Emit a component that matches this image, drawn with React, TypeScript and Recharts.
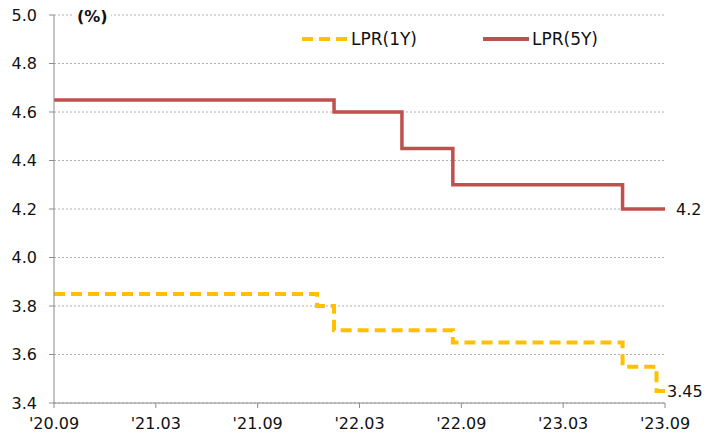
import { LineChart, Line, XAxis, YAxis, CartesianGrid, LabelList } from 'recharts';

// x position in months since '20.09 (change dates)
const lpr1yX = [0, 15.5, 16.5, 23.5, 33.5, 35.5, 36];
const lpr1yY = [3.85, 3.8, 3.7, 3.65, 3.55, 3.45, 3.45];
const lpr5yX = [0, 16.5, 20.5, 23.5, 33.5, 36];
const lpr5yY = [4.65, 4.6, 4.45, 4.3, 4.2, 4.2];

const xTicks = [0, 6, 12, 18, 24, 30, 36];
const xTickLabels = ["'20.09", "'21.03", "'21.09", "'22.03", "'22.09", "'23.03", "'23.09"];
const yTicks = [3.4, 3.6, 3.8, 4.0, 4.2, 4.4, 4.6, 4.8, 5.0];

const data1y = lpr1yX.map((x, i) => ({ x, v: lpr1yY[i] }));
const data5y = lpr5yX.map((x, i) => ({ x, v: lpr5yY[i] }));

const FONT = 'DejaVu Sans, Verdana, sans-serif';
const AXIS = '#8c8c8c';

function LegendBox() {
  return (
    <div
      style={{
        position: 'absolute',
        left: 302,
        top: 29,
        display: 'flex',
        alignItems: 'center',
        fontFamily: FONT,
        fontSize: 17,
        color: '#111',
      }}
    >
      <svg width={46} height={10}>
        <line x1={0} y1={5} x2={46} y2={5} stroke="#FFC000" strokeWidth={4} strokeDasharray="11 6" />
      </svg>
      <span style={{ marginLeft: 3 }}>LPR(1Y)</span>
      <svg width={46} height={10} style={{ marginLeft: 66 }}>
        <line x1={0} y1={5} x2={46} y2={5} stroke="#C0504D" strokeWidth={4} />
      </svg>
      <span style={{ marginLeft: 3 }}>LPR(5Y)</span>
    </div>
  );
}

const endLabel = (lastIndex: number, dx: number) => (p: any) =>
  p.index === lastIndex ? (
    <text x={p.x + dx} y={p.y} dy={6} fontFamily={FONT} fontSize={16} fill="#111">
      {p.value}
    </text>
  ) : null;

export default function App() {
  return (
    <div style={{ position: 'absolute', left: 0, top: 0, width: 716, height: 442, background: '#fff' }}>
      <LineChart width={716} height={442} margin={{ top: 15, right: 51, bottom: 0, left: 0 }}>
        <CartesianGrid vertical={false} stroke="#b0b0b0" strokeDasharray="2 2" />
        <XAxis
          type="number"
          dataKey="x"
          domain={[0, 36]}
          ticks={xTicks}
          tickFormatter={(v: number) => xTickLabels[xTicks.indexOf(v)]}
          height={39}
          stroke={AXIS}
          tickSize={5}
          tickMargin={10}
          tick={{ fontFamily: FONT, fontSize: 16, fill: '#111' }}
          allowDuplicatedCategory={false}
        />
        <YAxis
          type="number"
          domain={[3.4, 5.0]}
          ticks={yTicks}
          tickFormatter={(v: number) => v.toFixed(1)}
          width={54}
          stroke={AXIS}
          tickSize={5}
          tickMargin={12}
          tick={{ fontFamily: FONT, fontSize: 16, fill: '#111' }}
        />
        <Line
          data={data5y}
          dataKey="v"
          type="stepAfter"
          stroke="#C0504D"
          strokeWidth={3.5}
          dot={false}
          isAnimationActive={false}
          name="LPR(5Y)"
        >
          <LabelList dataKey="v" content={endLabel(data5y.length - 1, 11)} />
        </Line>
        <Line
          data={data1y}
          dataKey="v"
          type="stepAfter"
          stroke="#FFC000"
          strokeWidth={4}
          strokeDasharray="11 6"
          dot={false}
          isAnimationActive={false}
          name="LPR(1Y)"
        >
          <LabelList dataKey="v" content={endLabel(data1y.length - 1, 2)} />
        </Line>
      </LineChart>
      <LegendBox />
      <div
        style={{
          position: 'absolute',
          left: 74,
          top: 7,
          padding: '0 3px',
          background: '#fff',
          fontFamily: FONT,
          fontWeight: 'bold',
          fontSize: 16,
          color: '#111',
        }}
      >
        (%)
      </div>
    </div>
  );
}
